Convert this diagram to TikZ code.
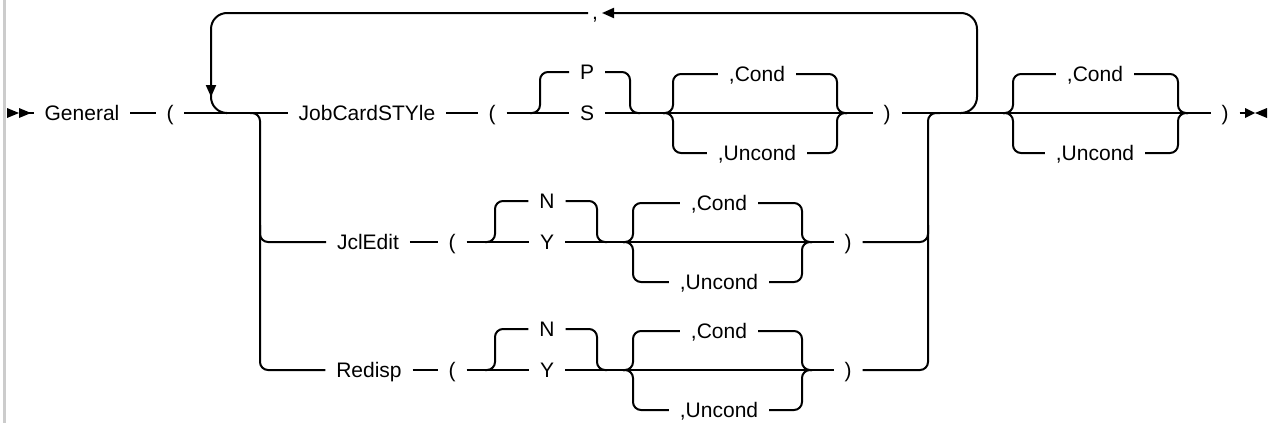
\documentclass[tikz,border=0pt]{standalone}
\usepackage{fontspec}
\setmainfont{Liberation Sans}
\usetikzlibrary{arrows.meta}

\tikzset{
  kw/.style={inner xsep=5pt, inner ysep=0pt, text height=7.5pt, text depth=0pt,
    font=\fontsize{10.5}{12}\selectfont},
  rr/.style={rounded corners=4pt},
  rep/.style={rounded corners=8pt},
  arr/.style={-{Triangle[length=6pt,width=5pt]}},
}

\begin{document}
\begin{tikzpicture}[x=0.5pt,y=-0.5pt,line width=1pt]
\useasboundingbox (0,0) rectangle (1268,423);
\draw[gray!40,line width=1.5pt] (4.5,0) -- (4.5,423);

% Anfang
\node[kw] (general) at (82,113) {General};
\node[kw] (lp0) at (170,113) {(};
\fill (7,108) -- (19,113) -- (7,118) -- cycle;
\fill (19,108) -- (31,113) -- (19,118) -- cycle;
\draw (19,113) -- (general.west);
\draw (general.east) -- (lp0.west);

% Zeile JobCardSTYle
\node[kw] (jcs) at (367,113) {JobCardSTYle};
\node[kw] (lp1) at (492,113) {(};
\node[kw] (p1) at (587,72) {P};
\node[kw] (s1) at (587,113) {S};
\node[kw] (c1) at (757,74) {,Cond};
\node[kw] (u1) at (757,153) {,Uncond};
\node[kw] (rp1) at (887,113) {)};
\draw (lp0.east) -- (jcs.west);
\draw (jcs.east) -- (lp1.west);
\draw (lp1.east) -- (s1.west);
\draw (s1.east) -- (rp1.west);
\draw[rr] (530,113) -| (540,72) -- (p1.west);
\draw[rr] (p1.east) -| (630,113) -- (640,113);
\draw[rr] (663,113) -| (673,74) -- (c1.west);
\draw[rr] (663,113) -| (673,153) -- (u1.west);
\draw[rr] (c1.east) -| (837,113) -- (847,113);
\draw[rr] (u1.east) -| (837,113) -- (847,113);

% Wiederholung
\coordinate (cmw) at (588,13);
\coordinate (cme) at (602,13);
\node[kw,anchor=base] (comma) at (595,19) {,};
\draw[rep,arr] (960,113) -- (977,113) -- (977,13) -- (cme);
\draw[rep] (cmw) -- (211,13) -- (211,113) -- (226,113);
\draw[arr] (211,70) -- (211,97);

% Verzweigung
\node[kw] (jcl) at (368,242) {JclEdit};
\node[kw] (red) at (369,370) {Redisp};
\draw[rr] (250,113) -| (260,370) -- (red.west);
\draw[rr] (260,225) |- (jcl.west);

% Zeile JclEdit
\node[kw] (lp2) at (452,242) {(};
\node[kw] (n2) at (547,201) {N};
\node[kw] (y2) at (547,242) {Y};
\node[kw] (c2) at (719,203) {,Cond};
\node[kw] (u2) at (719,282) {,Uncond};
\node[kw] (rp2) at (848,242) {)};
\draw (jcl.east) -- (lp2.west);
\draw (lp2.east) -- (y2.west);
\draw (y2.east) -- (rp2.west);
\draw[rr] (485,242) -| (495,201) -- (n2.west);
\draw[rr] (n2.east) -| (597,242) -- (607,242);
\draw[rr] (623,242) -| (633,203) -- (c2.west);
\draw[rr] (623,242) -| (633,282) -- (u2.west);
\draw[rr] (c2.east) -| (802,242) -- (812,242);
\draw[rr] (u2.east) -| (802,242) -- (812,242);

% Zeile Redisp
\node[kw] (lp3) at (452,370) {(};
\node[kw] (n3) at (547,329) {N};
\node[kw] (y3) at (547,370) {Y};
\node[kw] (c3) at (719,331) {,Cond};
\node[kw] (u3) at (719,410) {,Uncond};
\node[kw] (rp3) at (848,370) {)};
\draw (red.east) -- (lp3.west);
\draw (lp3.east) -- (y3.west);
\draw (y3.east) -- (rp3.west);
\draw[rr] (485,370) -| (495,329) -- (n3.west);
\draw[rr] (n3.east) -| (597,370) -- (607,370);
\draw[rr] (623,370) -| (633,331) -- (c3.west);
\draw[rr] (623,370) -| (633,410) -- (u3.west);
\draw[rr] (c3.east) -| (802,370) -- (812,370);
\draw[rr] (u3.east) -| (802,370) -- (812,370);

% Zusammenfuehrung
\draw[rr] (rp2.east) -| (928,225);
\draw[rr] (rp3.east) -| (928,113) -- (940,113);

% Ende
\node[kw] (c4) at (1095,74) {,Cond};
\node[kw] (u4) at (1095,153) {,Uncond};
\node[kw] (rp0) at (1225,113) {)};
\draw (rp1.east) -- (rp0.west);
\draw[rr] (1003,113) -| (1013,74) -- (c4.west);
\draw[rr] (1003,113) -| (1013,153) -- (u4.west);
\draw[rr] (c4.east) -| (1178,113) -- (1188,113);
\draw[rr] (u4.east) -| (1178,113) -- (1188,113);
\draw (rp0.east) -- (1250,113);
\fill (1245,108) -- (1255,113) -- (1245,118) -- cycle;
\fill (1267,108) -- (1255,113) -- (1267,118) -- cycle;

\end{tikzpicture}
\end{document}
